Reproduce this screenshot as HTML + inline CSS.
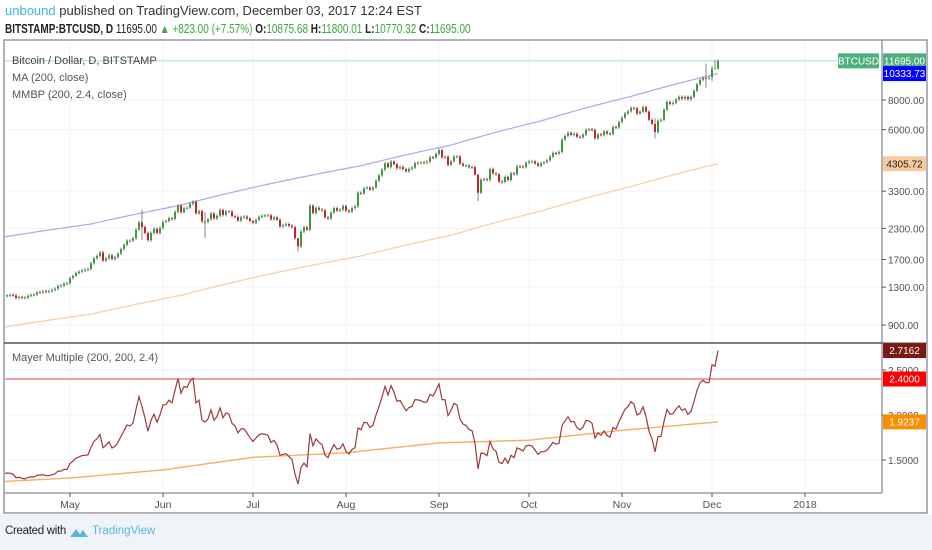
<!DOCTYPE html>
<html><head><meta charset="utf-8"><style>
html,body{margin:0;padding:0;width:932px;height:550px;overflow:hidden;background:#fff;font-family:"Liberation Sans",sans-serif;}
#hdr1{position:absolute;left:5px;top:3px;font-size:13px;color:#333;white-space:nowrap;}
#hdr2{position:absolute;left:5px;top:22px;font-size:12.5px;color:#222;font-weight:bold;white-space:nowrap;transform:scaleX(0.8);transform-origin:left top;}
#hdr2 .g{color:#3aa83a;font-weight:normal}
#footer{position:absolute;left:0;top:515px;width:932px;height:35px;background:#f0f3f7;}
svg text{font-family:"Liberation Sans",sans-serif;}
</style></head><body>
<div id="hdr1"><span style="color:#3bb3e4">unbound</span> published on TradingView.com, December 03, 2017 12:24 EST</div>
<div id="hdr2">BITSTAMP:BTCUSD, D <span style="font-weight:normal">11695.00</span> <span class="g">▲ +823.00 (+7.57%)</span> O:<span class="g">10875.68</span> H:<span class="g">11800.01</span> L:<span class="g">10770.32</span> C:<span class="g">11695.00</span></div>
<div id="footer">
<span style="position:absolute;left:5px;top:10px;font-size:11.5px;color:#222;letter-spacing:-0.3px">Created with</span>
<svg style="position:absolute;left:69px;top:10px" width="20" height="14"><path d="M1 12 L7 4 L11 9 L14 5 L19 12 Z" fill="#5ab7e0"/></svg>
<span style="position:absolute;left:92px;top:10px;font-size:11.5px;color:#5ab7e0">TradingView</span>
</div>
<svg id="chart" width="932" height="550" style="position:absolute;left:0;top:0"></svg>
<script>
const closes=[1180,1190,1200,1205,1200,1170,1180,1175,1175,1195,1205,1210,1235,1240,1250,1245,1250,1265,1280,1315,1320,1345,1350,
1420,1450,1490,1510,1530,1540,1550,1640,1720,1760,1820,1680,1720,1770,1710,1740,1800,1880,1960,2040,2040,2090,2270,2440,2330,2200,2050,2200,2290,2200,2310,
2450,2470,2540,2520,2700,2870,2690,2800,2810,2920,2980,2660,2720,2460,2450,2510,2660,2530,2600,2750,2620,2710,2710,2590,2570,2480,2560,2580,2530,2470,
2430,2500,2570,2600,2610,2610,2510,2560,2500,2340,2370,2400,2360,2330,2090,1930,2230,2320,2270,2870,2670,2810,2760,2740,2560,2530,2680,2800,2730,2760,2860,
2730,2700,2800,2850,3250,3230,3400,3420,3350,3420,3650,3850,4070,4320,4170,4400,4290,4120,4170,4090,4000,4100,4150,4330,4350,4360,4350,4390,4590,4580,4740,
4920,4580,4610,4260,4410,4620,4620,4310,4230,4230,4160,4170,3880,3250,3690,3710,3680,4090,3920,3890,3620,3610,3790,3680,3930,3890,4200,4190,4170,4350,
4400,4410,4320,4220,4330,4370,4450,4610,4780,4760,4830,5440,5640,5820,5700,5760,5600,5570,5710,5990,6010,5980,5510,5730,5690,5890,5770,5750,6150,6130,6460,
6740,7020,7170,7410,7380,7020,7140,7460,7140,6600,6340,5860,6540,6600,7280,7840,7700,7780,8040,8240,8100,8240,8050,8240,8750,9320,9740,9920,9880,9950,
10860,10870,11695];
const firstOpen=1175;
const wickDays=[47,68,99,159,218,235,237,238];
const wickHighs=[2760,2700,2000,3900,6700,11400,11100,11800];
const wickLows=[2050,2100,1840,3000,5500,9000,9600,10770];
const maDays=[0,30,60,90,120,150,180,210,239];
const maValues=[878,1000,1200,1480,1760,2150,2720,3450,4305.72];
const bandMult=2.4;
const mmMaDays=[0,23,54,84,115,146,176,207,239];
const mmMaValues=[1.26,1.30,1.39,1.53,1.58,1.69,1.72,1.83,1.9237];
const priceTicks=[900,1300,1700,2300,3300,6000,8000];
const mmTicks=[1.5,2.0,2.5];
const monthLabels=["May","Jun","Jul","Aug","Sep","Oct","Nov","Dec","2018"];
const monthDays=[23,54,84,115,146,176,207,237,268];

const NS="http://www.w3.org/2000/svg";
const svg=document.getElementById('chart');
function mk(tag,attrs,parent){const e=document.createElementNS(NS,tag);for(const k in attrs)e.setAttribute(k,attrs[k]);(parent||svg).appendChild(e);return e;}
const X=d=>1+d*3.0;
const Y=p=>325-103*Math.log(p/900);
const YM=v=>415-90*(v-2);
function interp(ds,vs,d){for(let i=0;i<ds.length-1;i++){if(d<=ds[i+1]){const t=(d-ds[i])/(ds[i+1]-ds[i]);return vs[i]+t*(vs[i+1]-vs[i]);}}return vs[vs.length-1];}
const fmt=(v,n)=>v.toFixed(n);

let e=mk('rect',{x:4,y:40,width:923,height:473,fill:'#fff',stroke:'#9598a1','stroke-width':1.5});

const defs=mk('defs',{});
const cp=mk('clipPath',{id:'pc'},defs);mk('rect',{x:5,y:41,width:877,height:301},cp);
const cp2=mk('clipPath',{id:'mc'},defs);mk('rect',{x:5,y:344,width:877,height:148},cp2);

const grid=mk('g',{});
monthDays.forEach(d=>{mk('line',{x1:X(d),x2:X(d),y1:41,y2:492,stroke:'#f0f3fa','stroke-width':1},grid);});
priceTicks.forEach(p=>{mk('line',{x1:5,x2:882,y1:Y(p),y2:Y(p),stroke:'#f0f3fa'},grid);});
mmTicks.forEach(v=>{mk('line',{x1:5,x2:882,y1:YM(v),y2:YM(v),stroke:'#f0f3fa'},grid);});

mk('line',{x1:882,x2:882,y1:40,y2:493,stroke:'#8a8d95','stroke-width':1.3});
e=mk('line',{x1:4,x2:882,y1:343,y2:343,stroke:'#555','stroke-width':1.5});
mk('line',{x1:4,x2:882,y1:493,y2:493,stroke:'#8a8d95','stroke-width':1.3});
mk('line',{x1:882,x2:927,y1:343,y2:343,stroke:'#555','stroke-width':1});

const pax=mk('g',{});
priceTicks.forEach(p=>{mk('line',{x1:882,x2:886,y1:Y(p),y2:Y(p),stroke:'#555'},pax);const t=mk('text',{x:888,y:Y(p)+4,'font-size':10,fill:'#4c525e'},pax);t.textContent=fmt(p,2);});
const max_=mk('g',{});
mmTicks.forEach(v=>{mk('line',{x1:882,x2:886,y1:YM(v),y2:YM(v),stroke:'#555'},max_);const t=mk('text',{x:888,y:YM(v)+4,'font-size':10,fill:'#4c525e'},max_);t.textContent=fmt(v,4);});
const tax=mk('g',{});
monthLabels.forEach((m,i)=>{mk('line',{x1:X(monthDays[i]),x2:X(monthDays[i]),y1:493,y2:497,stroke:'#555'},tax);const t=mk('text',{x:X(monthDays[i]),y:508,'font-size':10.5,fill:'#4c525e','text-anchor':'middle'},tax);t.textContent=m;});

const maPts=[],bandPts=[];
for(let d=0;d<closes.length;d++){const m=interp(maDays,maValues,d);maPts.push(X(d)+','+Y(m).toFixed(1));bandPts.push(X(d)+','+Y(m*bandMult).toFixed(1));}
e=mk('polyline',{points:maPts.join(' '),fill:'none',stroke:'#f9cfa8','stroke-width':1.3,'clip-path':'url(#pc)'});
e=mk('polyline',{points:bandPts.join(' '),fill:'none',stroke:'#a8a8ee','stroke-width':1.2,'clip-path':'url(#pc)'});
const last=closes[closes.length-1];
e=mk('line',{x1:5,x2:882,y1:Y(last),y2:Y(last),stroke:'#a8dcc8','stroke-width':1});

const cg=mk('g',{'clip-path':'url(#pc)'});
for(let d=0;d<closes.length;d++){
  const o=d===0?firstOpen:closes[d-1],c=closes[d];
  let hi=Math.max(o,c)*1.015,lo=Math.min(o,c)*0.985;
  const wi=wickDays.indexOf(d);if(wi>=0){hi=wickHighs[wi];lo=wickLows[wi];}
  const col=c>=o?'#3f9a3f':'#c4232c';
  const g=mk('g',{},cg);
  
  
  mk('line',{x1:X(d),x2:X(d),y1:Y(hi),y2:Y(lo),stroke:'#666','stroke-width':0.8},g);
  const yt=Math.min(Y(o),Y(c)),h=Math.max(1,Math.abs(Y(o)-Y(c)));
  mk('rect',{x:X(d)-1,y:yt,width:2,height:h,fill:col},g);
}

e=mk('line',{x1:5,x2:882,y1:YM(2.4),y2:YM(2.4),stroke:'#f08080','stroke-width':1.5});
const mmPts=[],mmMaPts=[];let lastMM=0;
for(let d=0;d<closes.length;d++){const mm=closes[d]/interp(maDays,maValues,d);lastMM=mm;mmPts.push(X(d)+','+YM(mm).toFixed(1));mmMaPts.push(X(d)+','+YM(interp(mmMaDays,mmMaValues,d)).toFixed(1));}
e=mk('polyline',{points:mmMaPts.join(' '),fill:'none',stroke:'#f6ad64','stroke-width':1.4,'clip-path':'url(#mc)'});
e=mk('polyline',{points:mmPts.join(' '),fill:'none',stroke:'#9a3a3a','stroke-width':1.2,'clip-path':'url(#mc)'});

function txt(x,y,s,str,col,name){const t=mk('text',{x:x,y:y,'font-size':s,fill:col});t.textContent=str;return t;}
txt(12,64,11,'Bitcoin / Dollar, D, BITSTAMP','#444','legend-symbol');
txt(12,81,11,'MA (200, close)','#555','legend-ma');
txt(12,98,11,'MMBP (200, 2.4, close)','#555','legend-mmbp');
txt(12,361,11,'Mayer Multiple (200, 200, 2.4)','#555','legend-mayer');

function badge(x,y,w,bg,fg,str,name){const g=mk('g',{});mk('rect',{x:x,y:y-7.5,width:w,height:15,fill:bg},g);const t=mk('text',{x:x+w/2,y:y+3.5,'font-size':10,fill:fg,'text-anchor':'middle'},g);t.textContent=str;return g;}
const lastMA=maValues[maValues.length-1];
badge(838,Y(last),41,'#4caf7d','#fff','BTCUSD','symbol-badge');
badge(883,Y(last),43,'#4caf7d','#fff',fmt(last,2),'last-price-badge');
badge(883,Y(lastMA*bandMult),43,'#0000ff','#fff',fmt(lastMA*bandMult,2),'mmbp-badge');
badge(883,Y(lastMA),43,'#f9c99e','#222',fmt(lastMA,2),'ma-badge');
badge(883,YM(lastMM),43,'#7b1a12','#fff',fmt(lastMM,4),'mayer-badge');
badge(883,YM(2.4),43,'#ff0000','#fff','2.4000','threshold-badge');
badge(883,YM(mmMaValues[mmMaValues.length-1]),43,'#ff8c00','#fff',fmt(mmMaValues[mmMaValues.length-1],4),'mayer-ma-badge');
</script>
</body></html>
